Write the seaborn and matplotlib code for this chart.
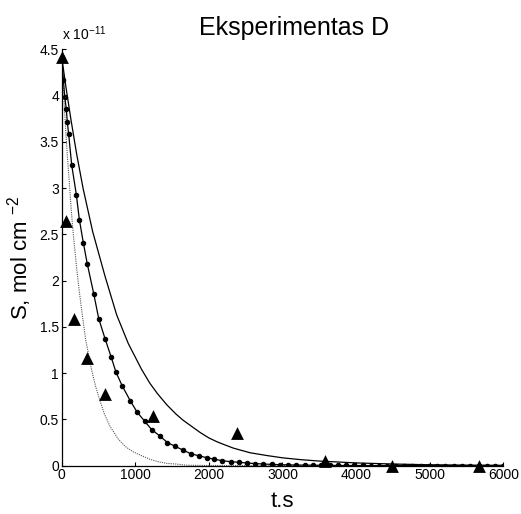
import matplotlib
matplotlib.use("Agg")
import matplotlib.pyplot as plt
import seaborn as sns
from matplotlib.ticker import FormatStrFormatter, MultipleLocator

# ------------------------ DATA (S in units of 1e-11 mol cm^-2) ------------------------

# measured points (triangles)
t_exp = [0, 54, 168, 349, 589, 1245, 2378, 3578, 4484, 5675]
s_exp = [4.42, 2.65, 1.59, 1.16, 0.77, 0.54, 0.35, 0.05, 0.0, 0.0]

# slow model curve (solid)
t_slow = [0, 60, 126, 203, 290, 421, 588, 747, 905, 1086, 1199, 1300, 1426, 1550, 1652,
          1879, 2000, 2106, 2200, 2332, 2558, 2785, 3000, 3250, 3500, 4000, 4500, 5000,
          5500, 6000]
s_slow = [4.42, 4.08, 3.74, 3.37, 3.0, 2.53, 2.05, 1.63, 1.32, 1.04, 0.89, 0.78, 0.66,
          0.56, 0.49, 0.36, 0.30, 0.26, 0.23, 0.19, 0.14, 0.11, 0.085, 0.065, 0.05, 0.03,
          0.018, 0.01, 0.006, 0.004]

# fitted curve (solid with dots)
t_fit = [0, 23, 41, 63, 77, 95, 136, 199, 240, 294, 348, 435, 503, 590, 670, 738, 824,
         933, 1024, 1128, 1222, 1336, 1436, 1540, 1644, 1753, 1871, 1970, 2074, 2183,
         2296, 2409, 2514, 2626, 2739, 2851, 2964, 3076, 3189, 3301, 3414, 3526, 3639,
         3751, 3864, 3976, 4089, 4201, 4314, 4426, 4539, 4651, 4764, 4876, 4989, 5101,
         5214, 5326, 5439, 5551, 5664, 5776, 5889, 6000]
s_fit = [4.42, 4.17, 3.99, 3.85, 3.71, 3.58, 3.25, 2.93, 2.66, 2.41, 2.18, 1.86, 1.59, 1.37,
         1.18, 1.01, 0.86, 0.70, 0.58, 0.48, 0.39, 0.32, 0.25, 0.21, 0.17, 0.13, 0.105,
         0.087, 0.069, 0.054, 0.043, 0.037, 0.029, 0.023, 0.018, 0.014, 0.011, 0.009,
         0.007, 0.006, 0.005, 0.004, 0.003, 0.003, 0.002, 0.002, 0.002, 0.001, 0.001,
         0.001, 0.001, 0.001, 0.001, 0.001, 0.001, 0.001, 0.001, 0.001, 0.001, 0.001,
         0.001, 0.001, 0.001, 0.001]

# fast model curve (dotted)
t_fast = [0, 25, 50, 75, 100, 130, 158, 200, 235, 280, 326, 408, 460, 517, 580, 653, 766,
          860, 970, 1080, 1196, 1300, 1423, 1550, 1700, 2000, 3000, 4000, 5000, 6000]
s_fast = [4.42, 4.05, 3.69, 3.37, 3.10, 2.76, 2.50, 2.16, 1.91, 1.63, 1.36, 1.03, 0.86,
          0.71, 0.56, 0.43, 0.29, 0.21, 0.15, 0.11, 0.07, 0.045, 0.025, 0.018, 0.005,
          0.002, 0.0, 0.0, 0.0, 0.0]

title = "Eksperimentas D"
x_label = "t.s"
y_label = "S, mol cm $^{-2}$"
scale_label = "x 10$^{-11}$"

# ------------------------ STYLE ------------------------

sns.set_style("ticks")
plt.rcParams["font.family"] = ["Liberation Sans", "DejaVu Sans"]
plt.rcParams["mathtext.fontset"] = "custom"
plt.rcParams["mathtext.rm"] = "Liberation Sans"
plt.rcParams["mathtext.it"] = "Liberation Sans"
plt.rcParams["mathtext.default"] = "regular"
plt.rcParams["axes.unicode_minus"] = False
plt.rcParams.update({"text.color": "black", "axes.labelcolor": "black",
                     "xtick.color": "black", "ytick.color": "black"})

fig = plt.figure(figsize=(5.21, 5.14), dpi=100)
ax = fig.add_axes([0.1184, 0.094, 0.8476, 0.81])

# ------------------------ PLOT ------------------------

sns.lineplot(x=t_fast, y=s_fast, ax=ax, color="#555555", linewidth=0.8,
             linestyle=(0, (1, 1)), sort=False, estimator=None)
sns.lineplot(x=t_slow, y=s_slow, ax=ax, color="black", linewidth=0.9,
             sort=False, estimator=None)
sns.lineplot(x=t_fit, y=s_fit, ax=ax, color="black", linewidth=0.9, marker="o",
             markersize=3.2, markeredgecolor="black", sort=False, estimator=None)
sns.scatterplot(x=t_exp, y=s_exp, ax=ax, marker="^", s=85, color="black",
                edgecolor="black", linewidth=0, clip_on=False, zorder=5)

ax.set_xlim(0, 6000)
ax.set_ylim(0, 4.5)
ax.xaxis.set_major_locator(MultipleLocator(1000))
ax.yaxis.set_major_locator(MultipleLocator(0.5))
ax.yaxis.set_major_formatter(FormatStrFormatter("%g"))
ax.tick_params(direction="in", length=3, width=0.8, labelsize=10, pad=2)
sns.despine(ax=ax)
for sp in ["left", "bottom"]:
    ax.spines[sp].set_linewidth(0.9)
    ax.spines[sp].set_color("black")

ax.set_xlabel(x_label, fontsize=16, labelpad=6)
ax.set_ylabel(y_label, fontsize=16, labelpad=4)
fig.text(294 / 521, 1 - 35 / 514, title, fontsize=18, ha="center", va="baseline")
fig.text(62 / 521, 1 - 40 / 514, scale_label, fontsize=10, ha="left", va="baseline")

fig.savefig("out.png", dpi=100, facecolor="white")
